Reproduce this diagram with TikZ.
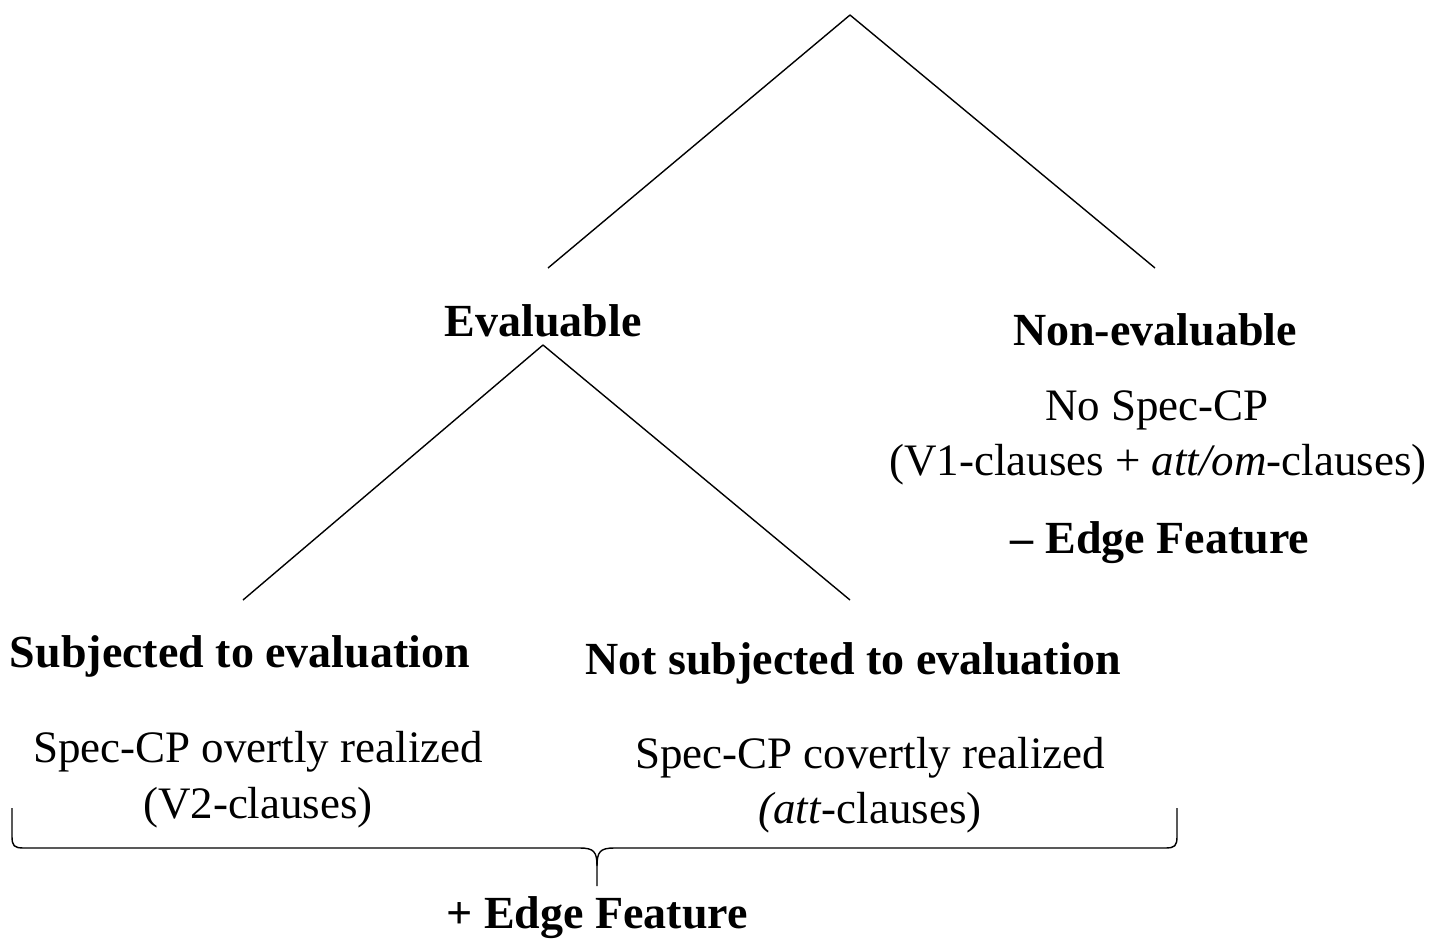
\documentclass[tikz,border=0pt]{standalone}
\usepackage{fontspec}
\setmainfont{Liberation Serif}
\usepackage{tikz}
\usetikzlibrary{positioning}

\begin{document}
\begin{tikzpicture}[
    x=0.5pt, y=-0.5pt,
    txt/.style={font=\fontsize{22.5}{27}\selectfont, inner sep=0pt, anchor=base},
    head/.style={font=\fontsize{23}{28}\selectfont\bfseries, inner sep=0pt, anchor=base},
    branch/.style={line width=0.7pt}
]
\useasboundingbox (0,0) rectangle (1435,942);

% --- Branch points ---
\coordinate (top) at (850,15);
\coordinate (evalend) at (548,268);
\coordinate (nonend) at (1155,268);
\coordinate (evaltop) at (543,345);
\coordinate (subjend) at (243,600);
\coordinate (notend) at (850,600);

% --- Labels of the first split ---
\node[head] (eval) at (543,336) {Evaluable};
\node[head] (noneval) at (1155,345) {Non-evaluable};
\node[txt] (nospec) at (1157,420) {No Spec-CP};
\node[txt] (v1) at (1158,475) {(V1-clauses + \textit{att/om}-clauses)};
\node[head] (minus) at (1160,553) {– Edge Feature};

% --- Labels of the second split ---
\node[head] (subj) at (240,667) {Subjected to evaluation};
\node[head] (notsubj) at (853,674) {Not subjected to evaluation};
\node[txt] (overt) at (258,762) {Spec-CP overtly realized};
\node[txt] (v2) at (258,818) {(V2-clauses)};
\node[txt] (covert) at (870,768) {Spec-CP covertly realized};
\node[txt] (attc) at (870,823) {\textit{(att}-clauses)};

% --- Tree branches ---
\foreach \a/\b in {top/evalend, top/nonend, evaltop/subjend, evaltop/notend}
    \draw[branch] (\a) -- (\b);

% --- Brace under both evaluable cases ---
\coordinate (bl) at (12,808);
\coordinate (br) at (1177,808);
\coordinate (tip) at (597,886);
\draw[branch] (bl) -- (12,836) .. controls (12,846) and (14,848) .. (24,848)
    -- (580,848) .. controls (594,848) and (597,852) .. (597,866) -- (tip);
\draw[branch] (br) -- (1177,836) .. controls (1177,846) and (1175,848) .. (1165,848)
    -- (614,848) .. controls (600,848) and (597,852) .. (597,866);

\node[head] (plus) at (597,928) {+ Edge Feature};

\end{tikzpicture}
\end{document}
